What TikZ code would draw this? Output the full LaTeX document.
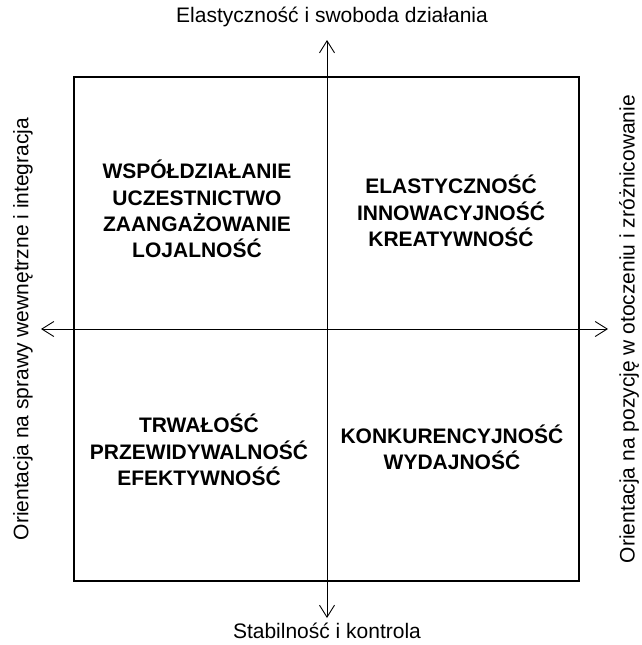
\documentclass[tikz,border=0pt]{standalone}
\usepackage{fontspec}
\setmainfont{Liberation Sans}
\usetikzlibrary{arrows.meta}
\begin{document}
\begin{tikzpicture}[x=1pt,y=-1pt,
  frame/.style={draw=black,line width=1.4pt},
  axis/.style={draw=black,line width=0.9pt,-{Straight Barb[length=12pt,width=15pt,line width=0.9pt]}},
  quad/.style={font=\fontsize{21}{26.3}\selectfont\bfseries,align=center,inner sep=0pt},
  axlabel/.style={font=\fontsize{21}{25}\selectfont,inner sep=0pt}]
  \useasboundingbox (0,0) rectangle (642,645);
  % outer square
  \node[frame,minimum width=505pt,minimum height=504pt,inner sep=0pt] (box) at (326.5,329) {};
  % axes
  \coordinate (c) at (327,329);
  \coordinate (top) at (327,40);
  \coordinate (bot) at (327,618);
  \coordinate (lft) at (41,329);
  \coordinate (rgt) at (608,329);
  \draw[axis] (c) -- (top);
  \draw[axis] (c) -- (bot);
  \draw[axis] (c) -- (lft);
  \draw[axis] (c) -- (rgt);
  % axis labels
  \node[axlabel] (ltop) at (332,17) {Elastyczność i swoboda działania};
  \node[axlabel] (lbot) at (327,631) {Stabilność i kontrola};
  \node[axlabel,rotate=90] (llft) at (23,329) {Orientacja na sprawy wewnętrzne i integracja};
  \node[axlabel,rotate=90] (lrgt) at (629,329) {Orientacja na pozycję w otoczeniu i zróżnicowanie};
  % quadrant contents
  \node[quad] (q1) at (197,209) {WSPÓŁDZIAŁANIE\\UCZESTNICTWO\\ZAANGAŻOWANIE\\LOJALNOŚĆ};
  \node[quad] (q2) at (451,211) {ELASTYCZNOŚĆ\\INNOWACYJNOŚĆ\\KREATYWNOŚĆ};
  \node[quad] (q3) at (199,450) {TRWAŁOŚĆ\\PRZEWIDYWALNOŚĆ\\EFEKTYWNOŚĆ};
  \node[quad] (q4) at (452,447) {KONKURENCYJNOŚĆ\\WYDAJNOŚĆ};
\end{tikzpicture}
\end{document}
